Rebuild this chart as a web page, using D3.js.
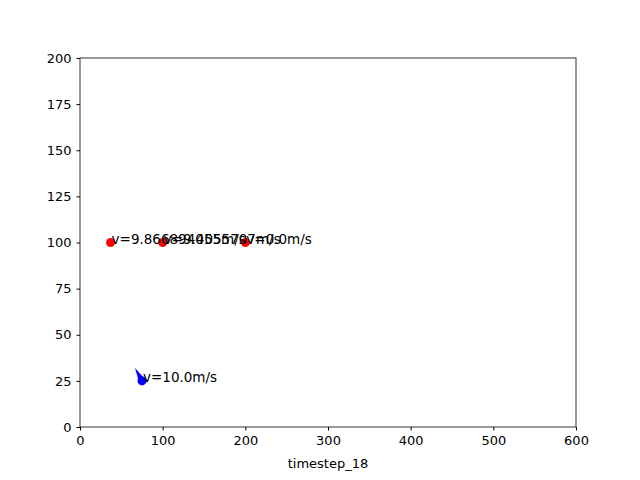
<!DOCTYPE html>
<meta charset="utf-8">
<script src="https://d3js.org/d3.v7.min.js"></script>
<style>body{margin:0}</style>
<div id="chart"></div>
<script>
var redX = [37, 100, 200];
var redY = [100, 100, 100];
var redLabels = ["v=9.866894055m/s", "v=9.4055707m/s", "v=0.0m/s"];
var blueX = [75];
var blueY = [25];
var blueLabels = ["v=10.0m/s"];
var xTicks = [0, 100, 200, 300, 400, 500, 600];
var yTicks = [0, 25, 50, 75, 100, 125, 150, 175, 200];

var svg = d3.select("#chart").append("svg").attr("width", 640).attr("height", 480)
    .style("font-family", "DejaVu Sans, sans-serif");
var x = d3.scaleLinear().domain([0, 600]).range([80, 576]);
var y = d3.scaleLinear().domain([0, 200]).range([427, 58]);

svg.append("g").attr("transform", "translate(0,427)")
    .call(d3.axisBottom(x).tickValues(xTicks).tickSize(3.5).tickPadding(5))
    .style("font-size", "13px").style("font-family", "DejaVu Sans, sans-serif");
svg.append("g").attr("transform", "translate(80,0)")
    .call(d3.axisLeft(y).tickValues(yTicks).tickSize(3.5).tickPadding(5))
    .style("font-size", "13px").style("font-family", "DejaVu Sans, sans-serif");
svg.selectAll(".domain").remove();
svg.selectAll(".tick text").attr("fill", "#000");
svg.append("rect").attr("x", 80).attr("y", 58).attr("width", 496).attr("height", 369)
    .attr("fill", "none").attr("stroke", "#000").attr("stroke-width", 0.8);

svg.append("text").attr("x", 328).attr("y", 468).attr("text-anchor", "middle")
    .style("font-size", "13px").text("timestep_18");

// blue heading wedge
blueX.forEach(function(d, i) {
    var px = x(d), py = y(blueY[i]);
    svg.append("path")
        .attr("d", "M" + (px - 7) + "," + (py - 13) + "L" + (px + 3) + "," + (py - 2) + "L" + (px - 3) + "," + (py + 1) + "Z")
        .attr("fill", "blue");
    svg.append("circle").attr("cx", px).attr("cy", py).attr("r", 4.5).attr("fill", "blue");
    svg.append("text").attr("x", px + 1).attr("y", py + 1).style("font-size", "13.5px").text(blueLabels[i]);
});

svg.selectAll(".red").data(redX).enter().append("circle")
    .attr("cx", function(d) { return x(d); })
    .attr("cy", function(d, i) { return y(redY[i]); })
    .attr("r", 4.5).attr("fill", "red");
svg.selectAll(".rlab").data(redX).enter().append("text")
    .attr("x", function(d) { return x(d) + 1; })
    .attr("y", function(d, i) { return y(redY[i]) + 1; })
    .style("font-size", "13.5px")
    .text(function(d, i) { return redLabels[i]; });
</script>
